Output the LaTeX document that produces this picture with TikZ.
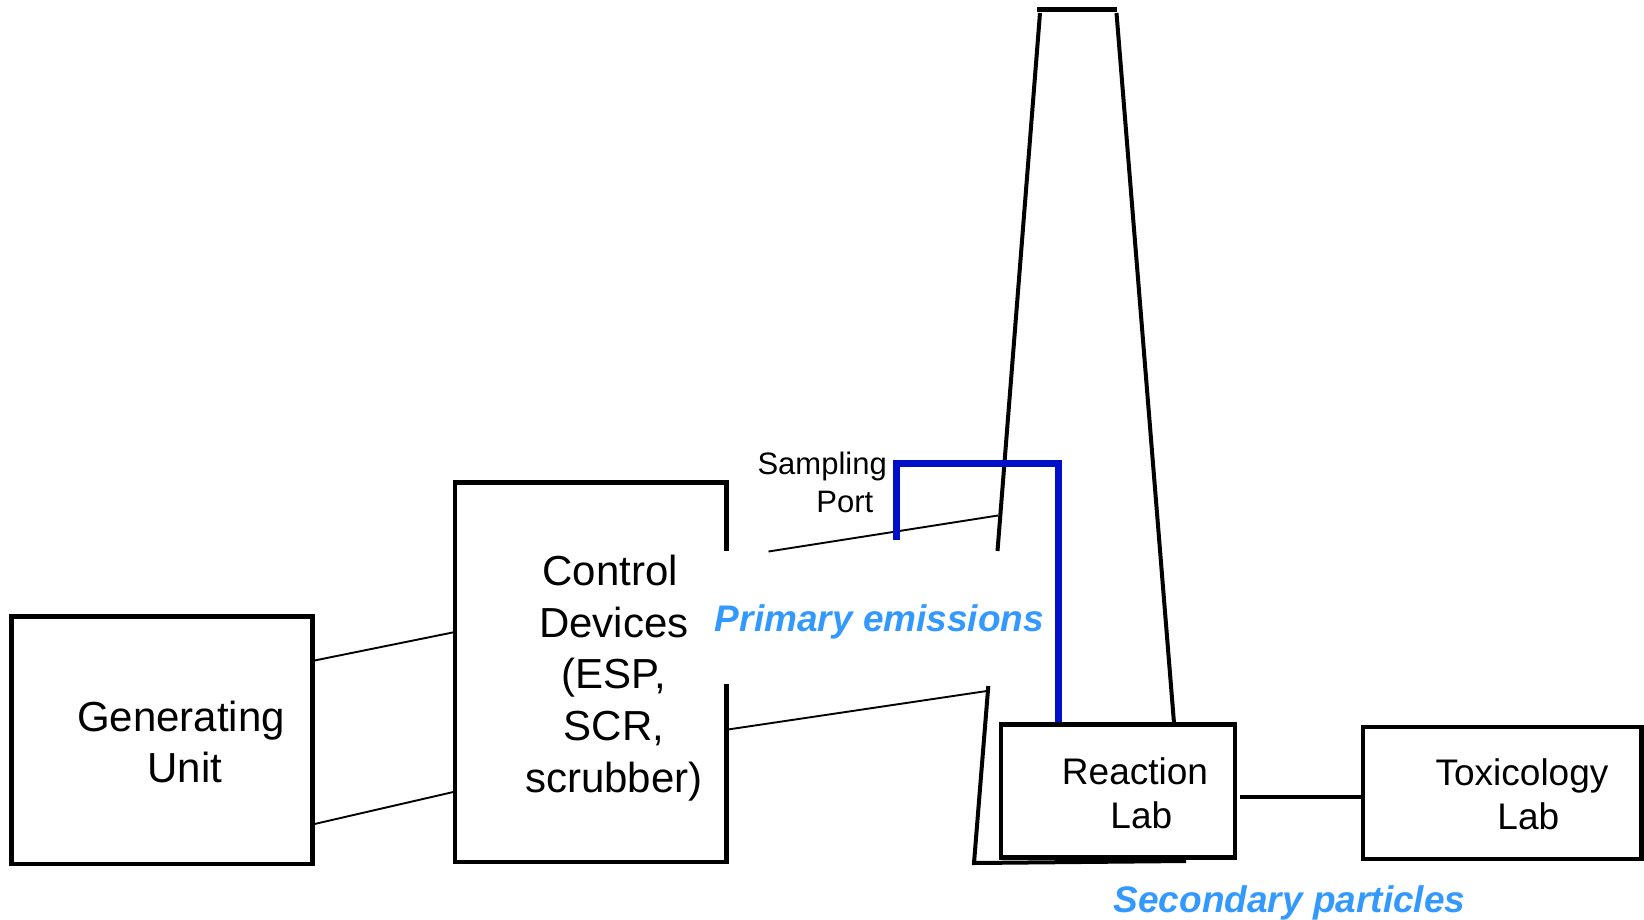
\documentclass[tikz,border=0pt]{standalone}
\usepackage{fontspec}
\setmainfont{Liberation Sans}
\usetikzlibrary{calc}
\definecolor{portblue}{RGB}{0,16,200}
\definecolor{labelblue}{RGB}{51,153,255}
\begin{document}
\begin{tikzpicture}[x=1pt,y=-1pt,
  box/.style={draw=black, line width=4.5pt, inner sep=0pt, line join=miter},
  hidden/.style={inner sep=0pt},
  thinline/.style={line width=1.9pt},
  wall/.style={line width=4pt},
  portline/.style={draw=portblue, line width=6.5pt, line join=miter},
  bigtxt/.style={font=\fontsize{42}{51.7}\selectfont, align=center, inner sep=0pt},
  labtxt/.style={font=\fontsize{37}{44}\selectfont, align=center, inner sep=0pt},
  smalltxt/.style={font=\fontsize{31}{37.7}\selectfont, align=right, inner sep=0pt},
  flowtxt/.style={font=\fontsize{37}{44}\selectfont\bfseries\itshape, text=labelblue, inner sep=0pt}]
\useasboundingbox (0,0) rectangle (1644,919);

% boxes
\node[box, minimum width=301pt, minimum height=247.5pt] (gu) at (162,740.25) {};
\node[bigtxt] (gutxt) at (181,742) {Generating\\\hspace*{7.4pt}Unit};

\node[hidden, minimum width=271.6pt, minimum height=379.7pt] (cd) at (590.8,672.15) {};
\draw[box] (726.6,550.5) |- (455,482.3) |- (726.6,862) -- (726.6,683.6);
\node[bigtxt] (cdtxt) at (614,678) {Control\hspace*{7.4pt}\\Devices\\(ESP,\\SCR,\\scrubber)};

\node[box, minimum width=234pt, minimum height=133pt] (rl) at (1118,791) {};
\node[labtxt] (rltxt) at (1135,793) {Reaction\\\hspace*{12.6pt}Lab};

\node[box, minimum width=278.5pt, minimum height=132pt] (tox) at (1502.25,793) {};
\node[labtxt] (toxtxt) at (1522,794) {Toxicology\\\hspace*{12.6pt}Lab};

% connectors generating unit -> control devices
\coordinate (g1) at (314.5,660.5);
\coordinate (c1) at (455,632);
\coordinate (g2) at (314.5,824);
\coordinate (c2) at (455,791.6);
\draw[thinline] (g1) -- (c1);
\draw[thinline] (g2) -- (c2);

% stack
\coordinate (capL) at (1037,9.5);
\coordinate (capR) at (1117,9.5);
\coordinate (stLtop) at (1040,13);
\coordinate (stLmid) at (997.5,551);
\coordinate (stLlow) at (988.3,686);
\coordinate (stLbot) at (974,863);
\coordinate (stBotR) at (1186,861);
\coordinate (stRtop) at (1116.5,13);
\coordinate (stRbot) at (1174,723);
\draw[line width=5pt] (capL) -- (capR);
\draw[wall] (stLtop) -- (stLmid);
\draw[wall, line join=miter] (stLlow) -- (stLbot) -- (stBotR);
\draw[wall] (stRtop) -- (stRbot);

% duct
\coordinate (d1a) at (768.5,551.5);
\coordinate (d1b) at (998,515.5);
\coordinate (d2a) at (726.6,729.7);
\coordinate (d2b) at (986.8,691);
\draw[thinline] (d1a) -- (d1b);
\draw[thinline] (d2a) -- (d2b);

% reaction lab -> toxicology lab
\coordinate (rt) at (1240,797);
\draw[wall] (rt) -- (rt -| tox.west);

% sampling port line
\coordinate (sp) at (896.7,540);
\coordinate (spc) at (1058.5,463.5);
\draw[portline] (sp) |- (spc) -- (spc |- rl.north);

% labels
\node[smalltxt, anchor=east] (sptxt) at (887,482.5) {Sampling\\Port\hspace*{13.6pt}};
\node[flowtxt] (pe) at (879.5,621.5) {Primary emissions};
\node[flowtxt] (sec) at (1289.5,902.5) {Secondary particles};
\end{tikzpicture}
\end{document}
